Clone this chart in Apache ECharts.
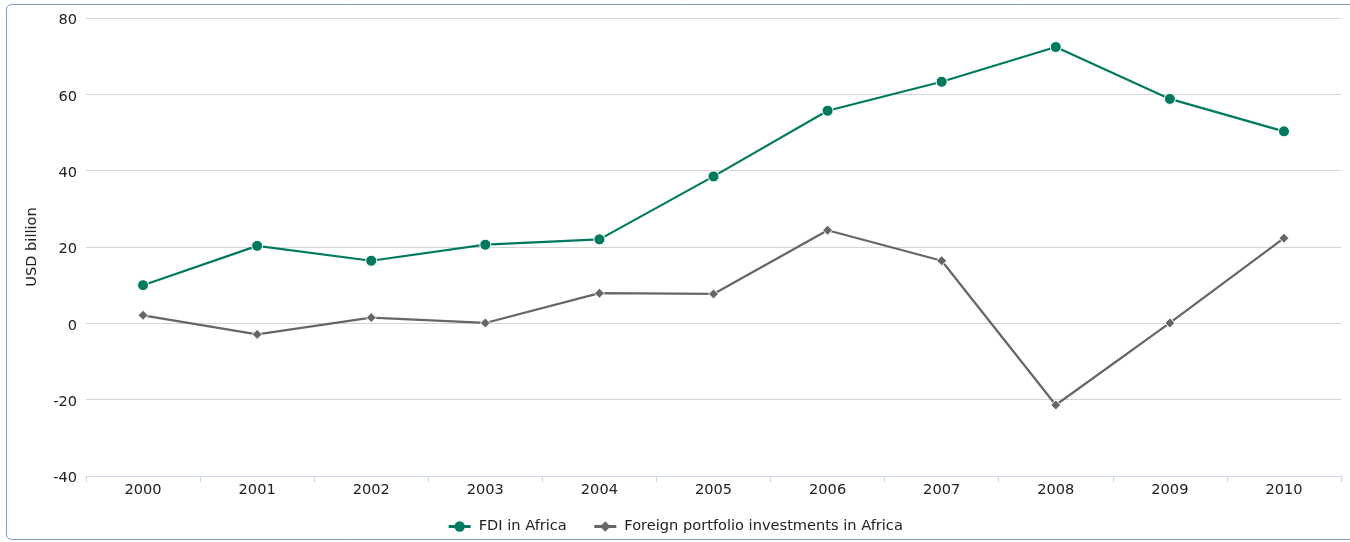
<!DOCTYPE html>
<html>
<head>
<meta charset="utf-8">
<script src="https://cdn.jsdelivr.net/npm/echarts@6/dist/echarts.min.js"></script>
<style>
  html, body { margin: 0; padding: 0; background: #ffffff; }
  #chart { width: 1350px; height: 542px; }
</style>
</head>
<body>
<div id="chart"></div>
<script>
// Years on the category axis
const years = ['2000', '2001', '2002', '2003', '2004', '2005', '2006', '2007', '2008', '2009', '2010'];

// Inflows to Africa, USD billion
const fdiInAfrica = [10.0, 20.3, 16.4, 20.6, 22.0, 38.5, 55.7, 63.3, 72.4, 58.8, 50.3];
const portfolioInAfrica = [2.1, -2.9, 1.5, 0.1, 7.9, 7.7, 24.4, 16.4, -21.4, 0.1, 22.3];

// Value axis range and step
const yMin = -40;
const yMax = 80;
const yStep = 20;

const FONT = 'DejaVu Sans';
const FS = 14.6;
const chart = echarts.init(document.getElementById('chart'), null, { renderer: 'canvas' });

chart.setOption({
  animation: false,
  backgroundColor: '#ffffff',
  textStyle: { fontFamily: FONT },
  graphic: [{
    type: 'rect',
    silent: true,
    shape: { x: 6.5, y: 4.5, width: 1360, height: 535, r: 5 },
    style: { fill: 'none', stroke: '#7b9dc8', lineWidth: 1 }
  }],
  grid: { left: 86, right: 9, top: 18, bottom: 66, containLabel: false },
  legend: {
    top: 514,
    left: 'center',
    itemWidth: 22,
    itemHeight: 13,
    itemGap: 26,
    lineStyle: { width: 3 },
    itemStyle: { borderWidth: 0 },
    textStyle: { fontFamily: FONT, fontSize: FS, color: '#222222', padding: [0, 0, 0, 3] },
    data: ['FDI in Africa', 'Foreign portfolio investments in Africa']
  },
  xAxis: {
    type: 'category',
    data: years,
    boundaryGap: true,
    axisLine: { onZero: false, lineStyle: { color: '#ccd6eb', width: 1 } },
    axisTick: { show: true, length: 6, lineStyle: { color: '#ccd6eb' } },
    axisLabel: { fontFamily: FONT, fontSize: FS, color: '#222222', margin: 7 },
    splitLine: { show: false }
  },
  yAxis: {
    type: 'value',
    min: yMin,
    max: yMax,
    interval: yStep,
    name: 'USD billion',
    nameLocation: 'middle',
    nameGap: 46,
    nameTextStyle: { fontFamily: FONT, fontSize: FS, color: '#222222' },
    axisLine: { show: false },
    axisTick: { show: false },
    axisLabel: {
      margin: 9,
      formatter: '{v|{value}}',
      rich: { v: { fontFamily: FONT, fontSize: FS, color: '#222222', padding: [5, 0, 0, 0] } }
    },
    splitLine: { lineStyle: { color: '#d4d4d4', width: 1 } }
  },
  series: [
    {
      name: 'FDI in Africa',
      type: 'line',
      data: fdiInAfrica,
      symbol: 'circle',
      symbolSize: 11,
      lineStyle: { color: '#007a5e', width: 2.2 },
      itemStyle: { color: '#007a5e', borderColor: '#ffffff', borderWidth: 1 },
      z: 3
    },
    {
      name: 'Foreign portfolio investments in Africa',
      type: 'line',
      data: portfolioInAfrica,
      symbol: 'diamond',
      symbolSize: 10,
      lineStyle: { color: '#666666', width: 2.2 },
      itemStyle: { color: '#666666', borderColor: '#ffffff', borderWidth: 1 },
      z: 2
    }
  ]
});
</script>
</body>
</html>
